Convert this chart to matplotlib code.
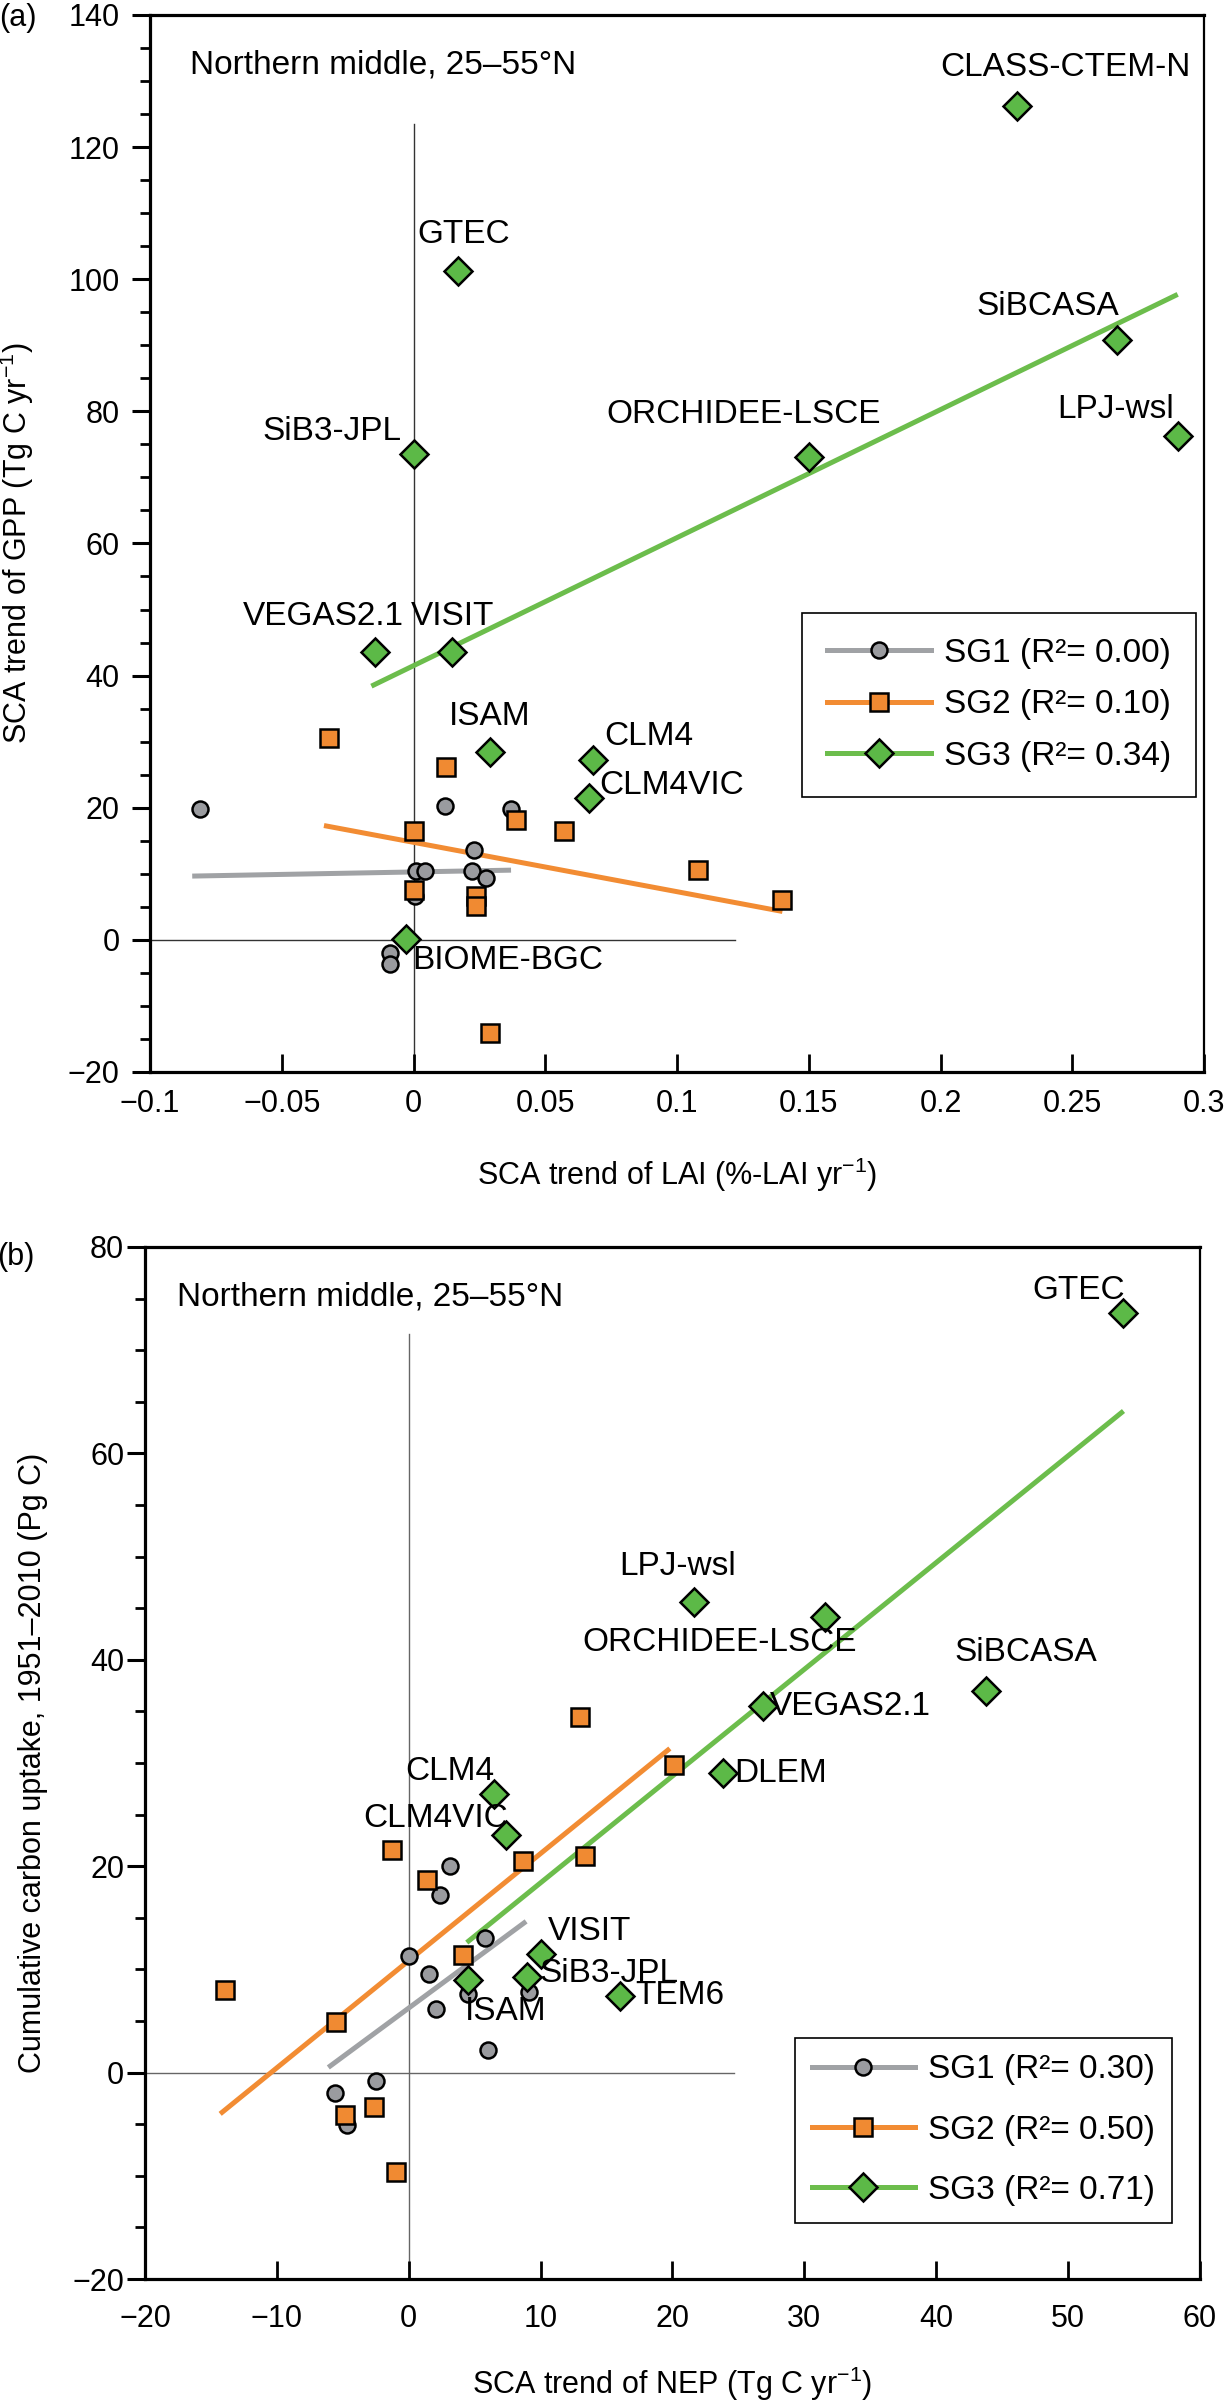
import numpy as np
import matplotlib.pyplot as plt
from matplotlib.lines import Line2D
from matplotlib.ticker import MultipleLocator, FuncFormatter

plt.rcParams['font.family'] = ['Liberation Sans', 'DejaVu Sans']
plt.rcParams['mathtext.fontset'] = 'custom'
plt.rcParams['mathtext.rm'] = 'Liberation Sans'
plt.rcParams['mathtext.it'] = 'Liberation Sans:italic'
plt.rcParams['mathtext.bf'] = 'Liberation Sans:bold'

# ---- panel (a): SCA trend of LAI vs SCA trend of GPP ----
a_sg1_x = [-0.081, 0.012, 0.037, 0.023, 0.001, 0.0045, 0.022, 0.0275, 0.0005, -0.009, -0.009]
a_sg1_y = [19.8, 20.2, 19.8, 13.6, 10.4, 10.4, 10.4, 9.4, 6.7, -2.0, -3.7]
a_sg2_x = [-0.032, 0.0125, 0.039, 0.057, 0.0003, 0.0003, 0.0236, 0.0238, 0.108, 0.140, 0.029]
a_sg2_y = [30.5, 26.2, 18.2, 16.5, 16.4, 7.5, 6.6, 5.1, 10.6, 6.0, -14.1]
a_sg3_names = ['CLASS-CTEM-N', 'GTEC', 'SiBCASA', 'LPJ-wsl', 'ORCHIDEE-LSCE', 'SiB3-JPL',
               'VEGAS2.1', 'VISIT', 'ISAM', 'CLM4', 'CLM4VIC', 'BIOME-BGC']
a_sg3_x = [0.229, 0.017, 0.267, 0.290, 0.150, 0.000, -0.0145, 0.0145, 0.029, 0.068, 0.0665, -0.003]
a_sg3_y = [126.2, 101.2, 90.8, 76.2, 73.1, 73.5, 43.5, 43.5, 28.5, 27.2, 21.5, 0.2]
a_r2 = ['0.00', '0.10', '0.34']
# fitted lines (end points)
a_fit1_x, a_fit1_y = [-0.084, 0.037], [9.65, 10.55]
a_fit2_x, a_fit2_y = [-0.034, 0.140], [17.3, 4.3]
a_fit3_x, a_fit3_y = [-0.016, 0.290], [38.4, 97.7]
a_vline_y = [-20, 123.5]
a_hline_x = [-0.1, 0.122]

# ---- panel (b): SCA trend of NEP vs cumulative carbon uptake ----
b_sg1_x = [3.1, 2.4, 5.8, 0.0, 1.5, 4.5, 9.1, 2.1, 6.0, -2.5, -5.6, -4.7]
b_sg1_y = [20.0, 17.2, 13.0, 11.3, 9.6, 7.6, 7.8, 6.2, 2.2, -0.8, -2.0, -5.1]
b_sg2_x = [13.0, 20.1, -1.3, 8.7, 13.4, 1.4, 4.1, -13.9, -5.5, -2.6, -4.8, -1.0]
b_sg2_y = [34.5, 29.8, 21.6, 20.5, 21.0, 18.7, 11.4, 8.0, 4.9, -3.3, -4.1, -9.6]
b_sg3_names = ['GTEC', 'LPJ-wsl', 'ORCHIDEE-LSCE', 'SiBCASA', 'VEGAS2.1', 'DLEM',
               'CLM4', 'CLM4VIC', 'VISIT', 'SiB3-JPL', 'ISAM', 'TEM6']
b_sg3_x = [54.2, 21.6, 31.6, 43.8, 26.9, 23.8, 6.5, 7.4, 10.0, 9.0, 4.5, 16.0]
b_sg3_y = [73.6, 45.6, 44.1, 37.0, 35.5, 29.0, 27.0, 23.0, 11.5, 9.3, 9.0, 7.45]
b_r2 = ['0.30', '0.50', '0.71']
b_fit1_x, b_fit1_y = [-6.1, 8.9], [0.5, 14.65]
b_fit2_x, b_fit2_y = [-14.3, 19.8], [-4.0, 31.4]
b_fit3_x, b_fit3_y = [4.4, 54.2], [12.6, 64.1]
b_vline_y = [-20, 71.6]
b_hline_x = [-20, 24.7]

# label placement (ha, dx px, dy px) -- style only
a_label_place = [('center', 48, 39), ('center', 5, 37), ('center', -69, 33), ('center', -62, 27),
                 ('center', -65, 42), ('right', -12, 23), ('right', 29, 36), ('center', 1, 36),
                 ('center', 0, 35), ('left', 12, 24), ('left', 10, 12), ('left', 7, -22)]
b_label_place = [('right', 2, 22), ('center', -16, 35), ('center', -106, -25), ('center', 39, 38),
                 ('left', 6, 0), ('left', 12, 0), ('right', 0, 22), ('right', 2, 17),
                 ('left', 7, 22), ('left', 12, 3), ('left', -3, -32), ('left', 16, 0)]

GRAY_F, ORANGE_F, GREEN_F = '#9a9b9f', '#f08a32', '#5cb947'
GRAY_L, ORANGE_L, GREEN_L = '#a0a2a5', '#f28c33', '#6cbd4c'
MEW = 1.8
FIT_LW = 3.6
TICK_FS = 22
NOTE_FS = 24
LABEL_FS = 22


def fmt(v, pos):
    s = f'{round(v, 4):g}'
    if s in ('-0', '-0.0'):
        s = '0'
    return s.replace('-', '\u2212')


def setup(ax, xlim, ylim, xstep, xpad, ypad):
    ax.set_xlim(xlim)
    ax.set_ylim(ylim)
    ax.xaxis.set_major_locator(MultipleLocator(xstep))
    ax.yaxis.set_major_locator(MultipleLocator(20))
    ax.yaxis.set_minor_locator(MultipleLocator(5))
    ax.xaxis.set_major_formatter(FuncFormatter(fmt))
    ax.yaxis.set_major_formatter(FuncFormatter(fmt))
    ax.tick_params(axis='x', which='major', direction='in', length=13, width=2,
                   labelsize=TICK_FS, pad=xpad)
    ax.tick_params(axis='y', which='major', direction='out', length=13, width=2.2,
                   labelsize=TICK_FS, pad=ypad)
    ax.tick_params(axis='y', which='minor', direction='out', length=7, width=2)
    for name, s in ax.spines.items():
        s.set_linewidth(1.6 if name == 'right' else 2.3)


def draw(ax, s1x, s1y, s2x, s2y, s3x, s3y, names, place,
         f1, f2, f3, vline_y, hline_x, ref_color):
    ax.plot([0, 0], vline_y, color=ref_color, lw=1.0, zorder=1)
    ax.plot(hline_x, [0, 0], color=ref_color, lw=1.0, zorder=1)
    ax.plot(f1[0], f1[1], color=GRAY_L, lw=FIT_LW, solid_capstyle='butt', zorder=2)
    ax.plot(f2[0], f2[1], color=ORANGE_L, lw=FIT_LW, solid_capstyle='butt', zorder=2)
    ax.plot(f3[0], f3[1], color=GREEN_L, lw=FIT_LW, solid_capstyle='butt', zorder=2)
    ax.plot(s1x, s1y, 'o', ms=11.5, mfc=GRAY_F, mec='black', mew=MEW, zorder=3)
    ax.plot(s2x, s2y, 's', ms=12.3, mfc=ORANGE_F, mec='black', mew=MEW, zorder=4)
    ax.plot(s3x, s3y, 'D', ms=14.5, mfc=GREEN_F, mec='black', mew=MEW, zorder=5)
    for name, x, y, (ha, dx, dy) in zip(names, s3x, s3y, place):
        ax.annotate(name, (x, y), xytext=(dx, dy), textcoords='offset pixels',
                    ha=ha, va='center', fontsize=NOTE_FS, zorder=6)


def legend(ax, r2, anchor, spacing, bpad):
    handles = [
        Line2D([], [], color=GRAY_L, lw=FIT_LW, marker='o', ms=11.5, mfc=GRAY_F, mec='black', mew=MEW),
        Line2D([], [], color=ORANGE_L, lw=FIT_LW, marker='s', ms=12.3, mfc=ORANGE_F, mec='black', mew=MEW),
        Line2D([], [], color=GREEN_L, lw=FIT_LW, marker='D', ms=14.5, mfc=GREEN_F, mec='black', mew=MEW),
    ]
    labels = [f'SG{i + 1} (R\u00b2= {v})' for i, v in enumerate(r2)]
    leg = ax.legend(handles, labels, loc='upper left', bbox_to_anchor=anchor,
                    borderaxespad=0, fontsize=24, numpoints=1, handlelength=3.1,
                    handletextpad=0.4, labelspacing=spacing, borderpad=bpad,
                    fancybox=False, framealpha=1, edgecolor='black')
    leg.get_frame().set_linewidth(1.2)
    leg.set_zorder(10)


fig = plt.figure(figsize=(12.32, 24.03), dpi=100)
ax_a = fig.add_axes([0.1218, 0.5539, 0.8555, 0.4399])
ax_b = fig.add_axes([0.1177, 0.0516, 0.8563, 0.4295])

setup(ax_a, (-0.1, 0.3), (-20, 140), 0.05, 12, 9)
draw(ax_a, a_sg1_x, a_sg1_y, a_sg2_x, a_sg2_y, a_sg3_x, a_sg3_y, a_sg3_names, a_label_place,
     (a_fit1_x, a_fit1_y), (a_fit2_x, a_fit2_y), (a_fit3_x, a_fit3_y), a_vline_y, a_hline_x,
     '#333333')
legend(ax_a, a_r2, (0.619, 0.4345), 0.62, 0.75)
ax_a.text(0.038, 0.9527, 'Northern middle, 25\u201355\u00b0N', transform=ax_a.transAxes,
          fontsize=NOTE_FS, va='center', ha='left')
ax_a.set_xlabel('SCA trend of LAI (%-LAI yr$^{\u22121}$)', fontsize=LABEL_FS)
ax_a.set_ylabel('SCA trend of GPP (Tg C yr$^{\u22121}$)', fontsize=LABEL_FS)
ax_a.xaxis.set_label_coords(0.5, -0.079)
ax_a.yaxis.set_label_coords(-0.108, 0.5)

setup(ax_b, (-20, 60), (-20, 80), 10, 18, 2)
draw(ax_b, b_sg1_x, b_sg1_y, b_sg2_x, b_sg2_y, b_sg3_x, b_sg3_y, b_sg3_names, b_label_place,
     (b_fit1_x, b_fit1_y), (b_fit2_x, b_fit2_y), (b_fit3_x, b_fit3_y), b_vline_y, b_hline_x,
     '#666666')
legend(ax_b, b_r2, (0.616, 0.2338), 0.88, 0.5)
ax_b.text(0.0303, 0.9518, 'Northern middle, 25\u201355\u00b0N', transform=ax_b.transAxes,
          fontsize=NOTE_FS, va='center', ha='left')
ax_b.set_xlabel('SCA trend of NEP (Tg C yr$^{\u22121}$)', fontsize=LABEL_FS)
ax_b.set_ylabel('Cumulative carbon uptake, 1951\u20132010 (Pg C)', fontsize=LABEL_FS)
ax_b.xaxis.set_label_coords(0.5, -0.083)
ax_b.yaxis.set_label_coords(-0.092, 0.5)

fig.text(18 / 1232, 1 - 18 / 2403, '(a)', fontsize=22, ha='center', va='center')
fig.text(16 / 1232, 1 - 1257 / 2403, '(b)', fontsize=22, ha='center', va='center')

fig.savefig('out.png', dpi=100)
